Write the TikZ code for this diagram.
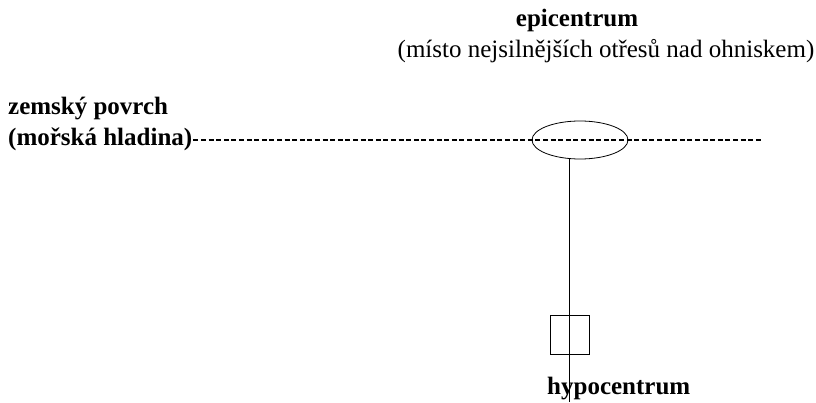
\documentclass[tikz,border=0pt]{standalone}
\usepackage{fontspec}
\setmainfont{Liberation Serif}
\usetikzlibrary{shapes.geometric}
\begin{document}
\begin{tikzpicture}[x=1pt,y=-1pt,
  lbl/.style={inner sep=0pt,font=\fontsize{25}{29}\selectfont},
  bold/.style={lbl,font=\fontsize{25}{29}\selectfont\bfseries},
  surface/.style={line width=1.2pt,dash pattern=on 5pt off 2.6pt},
  thin/.style={line width=0.8pt}]
\useasboundingbox (0,0) rectangle (816,403);
% labels
\node[bold,anchor=base] (epititle) at (577,27) {epicentrum};
\node[lbl,anchor=base] (epidesc) at (606,58) {(místo nejsilnějších otřesů nad ohniskem)};
\node[bold,anchor=base west] (surf1) at (8,115) {zemský povrch};
\node[bold,anchor=base west] (surf2) at (8,146) {(mořská hladina)};
\node[bold,anchor=base west] (hypotitle) at (547,394) {hypocentrum};
% sea level / ground surface
\coordinate (surfend) at (763,140);
\draw[surface] ([xshift=1pt]surf2.east |- surfend) -- (surfend);
% epicentre and focus
\node[draw,thin,ellipse,minimum width=96pt,minimum height=38pt,inner sep=0pt] (epi) at (580,140) {};
\node[draw,thin,minimum size=39pt,inner sep=0pt] (hypo) at (569.5,334.5) {};
\coordinate (axisbottom) at (569.5,402);
\draw[thin] (axisbottom |- epi.south) -- (axisbottom);
\end{tikzpicture}
\end{document}
